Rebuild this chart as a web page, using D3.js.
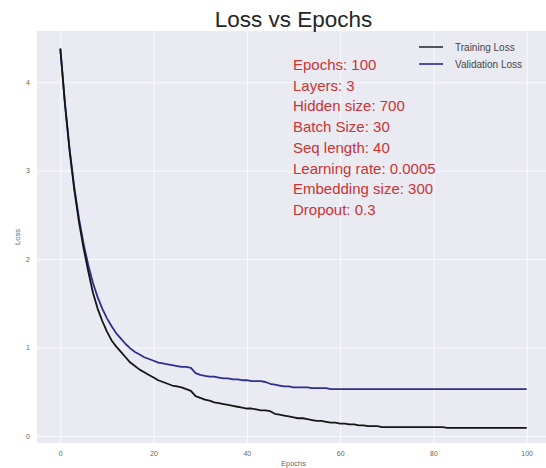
<!DOCTYPE html>
<html>
<head>
<meta charset="utf-8">
<script src="https://cdn.jsdelivr.net/npm/d3@7"></script>
<style>
  html, body { margin: 0; padding: 0; background: #ffffff; }
  svg { display: block; font-family: "Liberation Sans", Arial, sans-serif; }
</style>
</head>
<body>
<svg id="chart" width="546" height="468"></svg>
<script>
// ---- data ----
const epochs = d3.range(0, 101);
const trainingLoss = [
  4.38, 3.75, 3.22, 2.78, 2.42, 2.12, 1.86, 1.62, 1.44, 1.30,
  1.18, 1.08, 1.01, 0.95, 0.89, 0.83, 0.79, 0.75, 0.72, 0.69,
  0.66, 0.63, 0.61, 0.59, 0.57, 0.56, 0.55, 0.53, 0.51, 0.45,
  0.43, 0.41, 0.40, 0.38, 0.37, 0.36, 0.35, 0.34, 0.33, 0.32,
  0.31, 0.31, 0.30, 0.29, 0.29, 0.28, 0.25, 0.24, 0.23, 0.22,
  0.21, 0.20, 0.20, 0.19, 0.18, 0.17, 0.17, 0.16, 0.15, 0.15,
  0.14, 0.14, 0.13, 0.13, 0.12, 0.12, 0.11, 0.11, 0.11, 0.10,
  0.10, 0.10, 0.10, 0.10, 0.10, 0.10, 0.10, 0.10, 0.10, 0.10,
  0.10, 0.10, 0.10, 0.09, 0.09, 0.09, 0.09, 0.09, 0.09, 0.09,
  0.09, 0.09, 0.09, 0.09, 0.09, 0.09, 0.09, 0.09, 0.09, 0.09,
  0.09
];
const validationLoss = [
  4.38, 3.76, 3.24, 2.81, 2.46, 2.17, 1.93, 1.73, 1.57, 1.44,
  1.33, 1.24, 1.16, 1.10, 1.04, 0.99, 0.95, 0.92, 0.89, 0.87,
  0.85, 0.83, 0.82, 0.81, 0.80, 0.79, 0.78, 0.78, 0.77, 0.71,
  0.69, 0.68, 0.67, 0.67, 0.66, 0.65, 0.65, 0.64, 0.64, 0.63,
  0.63, 0.62, 0.62, 0.62, 0.61, 0.59, 0.58, 0.57, 0.56, 0.56,
  0.55, 0.55, 0.55, 0.55, 0.54, 0.54, 0.54, 0.54, 0.53, 0.53,
  0.53, 0.53, 0.53, 0.53, 0.53, 0.53, 0.53, 0.53, 0.53, 0.53,
  0.53, 0.53, 0.53, 0.53, 0.53, 0.53, 0.53, 0.53, 0.53, 0.53,
  0.53, 0.53, 0.53, 0.53, 0.53, 0.53, 0.53, 0.53, 0.53, 0.53,
  0.53, 0.53, 0.53, 0.53, 0.53, 0.53, 0.53, 0.53, 0.53, 0.53,
  0.53
];
const xTicks = [0, 20, 40, 60, 80, 100];
const yTicks = [0, 1, 2, 3, 4];
const seriesNames = ["Training Loss", "Validation Loss"];
const annotationLines = [
  "Epochs: 100",
  "Layers: 3",
  "Hidden size: 700",
  "Batch Size: 30",
  "Seq length: 40",
  "Learning rate: 0.0005",
  "Embedding size: 300",
  "Dropout: 0.3"
];
const titleText = "Loss vs Epochs";
const xLabel = "Epochs";
const yLabel = "Loss";

// ---- layout ----
const svg = d3.select("#chart");
const plot = { left: 37, right: 550, top: 31, bottom: 443 };
const x = d3.scaleLinear().domain([-5, 105]).range([plot.left, plot.right]);
const y = d3.scaleLinear().domain([-0.08, 4.58]).range([plot.bottom, plot.top]);

// background
svg.append("rect")
  .attr("x", plot.left).attr("y", plot.top)
  .attr("width", plot.right - plot.left).attr("height", plot.bottom - plot.top)
  .attr("fill", "#eaeaf2");

// grid
const gx = svg.append("g")
  .attr("transform", `translate(0,${plot.bottom})`)
  .call(d3.axisBottom(x).tickValues(xTicks).tickSize(-(plot.bottom - plot.top)).tickPadding(8).tickFormat(d3.format("d")));
const gy = svg.append("g")
  .attr("transform", `translate(${plot.left},0)`)
  .call(d3.axisLeft(y).tickValues(yTicks).tickSize(-(plot.right - plot.left)).tickPadding(7).tickFormat(d3.format("d")));
[gx, gy].forEach(g => {
  g.select(".domain").remove();
  g.selectAll(".tick line").attr("stroke", "#ffffff").attr("stroke-width", 1).attr("stroke-opacity", 0.8);
  g.selectAll(".tick text").attr("fill", "#666666").attr("font-size", 7)
    .attr("font-family", "'Liberation Sans', Arial, sans-serif");
});

// lines
const line = d3.line().x((d, i) => x(epochs[i])).y(d => y(d));
svg.append("path").datum(validationLoss)
  .attr("fill", "none").attr("stroke", "#2e2e90").attr("stroke-width", 1.8)
  .attr("stroke-linejoin", "round").attr("d", line);
svg.append("path").datum(trainingLoss)
  .attr("fill", "none").attr("stroke", "#151515").attr("stroke-width", 1.8)
  .attr("stroke-linejoin", "round").attr("d", line);

// title
svg.append("text")
  .attr("x", (plot.left + plot.right) / 2).attr("y", 27)
  .attr("text-anchor", "middle").attr("font-size", 22.5).attr("fill", "#262626")
  .text(titleText);

// axis labels
svg.append("text")
  .attr("x", (plot.left + plot.right) / 2).attr("y", 466)
  .attr("text-anchor", "middle").attr("font-size", 7.5).attr("fill", "#666666")
  .text(xLabel);
svg.append("text")
  .attr("transform", `translate(20,${(plot.top + plot.bottom) / 2}) rotate(-90)`)
  .attr("text-anchor", "middle").attr("font-size", 7.5).attr("fill", "#666666")
  .text(yLabel);

// legend
const legendColors = ["#555560", "#5050a8"];
const lg = svg.append("g");
seriesNames.forEach((name, i) => {
  const cy = 47 + i * 17;
  lg.append("line").attr("x1", 419).attr("x2", 443).attr("y1", cy).attr("y2", cy)
    .attr("stroke", legendColors[i]).attr("stroke-width", 2);
  lg.append("text").attr("x", 455).attr("y", cy + 3.5)
    .attr("font-size", 10).attr("fill", "#444444").text(name);
});

// annotation
const ann = svg.append("g");
annotationLines.forEach((t, i) => {
  ann.append("text")
    .attr("x", 293).attr("y", 70 + i * 20.7)
    .attr("font-size", 15).attr("fill", "#cc3333")
    .text(t);
});
</script>
</body>
</html>
